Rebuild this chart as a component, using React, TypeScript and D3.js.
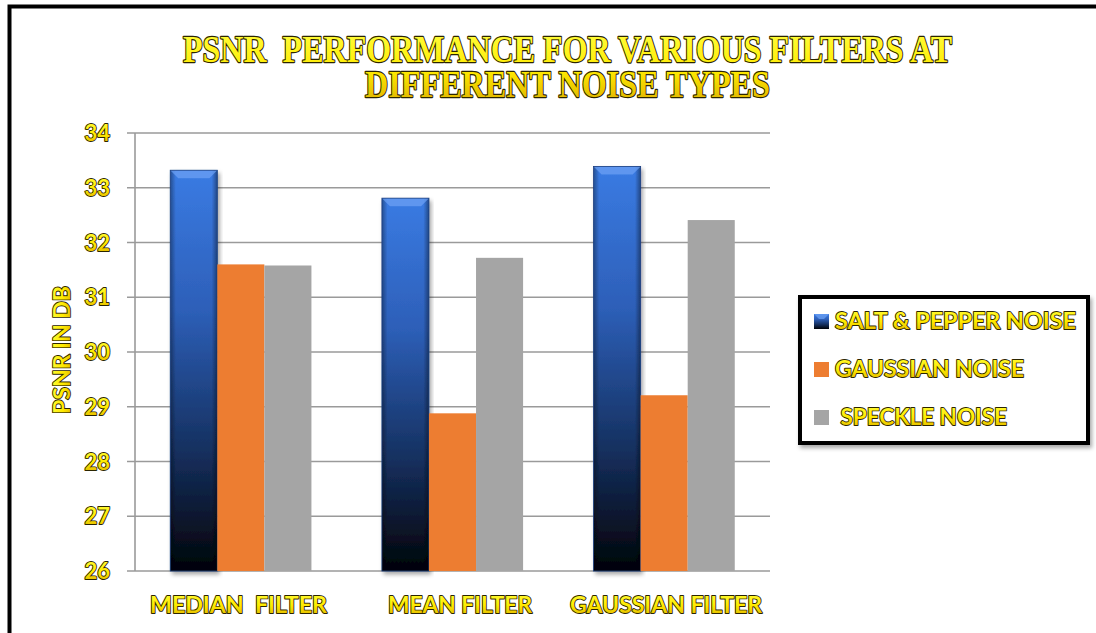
import React from "react";
import * as d3 from "d3";

const categories = ["MEDIAN  FILTER", "MEAN FILTER", "GAUSSIAN FILTER"];
const seriesNames = ["SALT & PEPPER NOISE", "GAUSSIAN NOISE", " SPECKLE NOISE"];
const saltPepper = [33.32, 32.81, 33.39];
const gaussianNoise = [31.6, 28.88, 29.21];
const speckle = [31.58, 31.72, 32.41];
const yTicks = [26, 27, 28, 29, 30, 31, 32, 33, 34];
const titleLines = ["PSNR  PERFORMANCE FOR VARIOUS FILTERS AT", "DIFFERENT NOISE TYPES"];
const yTitle = "PSNR IN DB";

const W = 1096, H = 633;
const plot = { left: 135, right: 770, top: 133, bottom: 571 };

const FancyText = ({ x, y, text, size, family, anchor = "middle", length, rotate = 0, sw = 1.1, weight = "bold", sy = 1 }: any) => {
  const common: any = {
    fontFamily: family, fontSize: size, fontWeight: weight, textAnchor: anchor,
    style: { whiteSpace: "pre", paintOrder: "stroke fill" },
  };
  if (length) { common.textLength = length; common.lengthAdjust = "spacingAndGlyphs"; }
  return (
    <g transform={`translate(${x},${y}) rotate(${rotate}) scale(1,${sy})`}>
      <text {...common} x={0} y={0} fill="url(#txtGrad)" stroke="#2b2500" strokeWidth={sw * 2} strokeLinejoin="round">{text}</text>
    </g>
  );
};

export default function App() {
  const x0 = d3.scaleBand().domain(categories).range([plot.left, plot.right]).paddingInner(0.333).paddingOuter(0.1665);
  const x1 = d3.scaleBand().domain(["a", "b", "c"]).range([0, x0.bandwidth()]);
  const y = d3.scaleLinear().domain([26, 34]).range([plot.bottom, plot.top]);
  const colors = ["url(#blueGrad)", "#ED7D31", "#A5A5A5"];
  const series = [saltPepper, gaussianNoise, speckle];
  const sans = "Lato, 'Open Sans', sans-serif";
  const serif = "'Liberation Serif', 'DejaVu Serif', serif";
  const catLen = [177, 144, 192];
  const catX = [238.5, 460, 666];
  const legLen = [241, 189, 172];
  const tsy = 1.25;

  return (
    <svg width={W} height={H} style={{ position: "absolute", left: 0, top: 0, background: "#fff", overflow: "hidden" }}>
      <defs>
        <linearGradient id="blueGrad" x1="0" y1="0" x2="0" y2="1">
          <stop offset="0" stopColor="#3a7be3" />
          <stop offset="0.35" stopColor="#2d5fb8" />
          <stop offset="0.7" stopColor="#15305f" />
          <stop offset="1" stopColor="#020308" />
        </linearGradient>
        <linearGradient id="bevelSide" x1="0" y1="0" x2="1" y2="0">
          <stop offset="0" stopColor="#000" stopOpacity="0.35" />
          <stop offset="0.12" stopColor="#000" stopOpacity="0" />
          <stop offset="0.88" stopColor="#000" stopOpacity="0" />
          <stop offset="1" stopColor="#000" stopOpacity="0.4" />
        </linearGradient>
        <linearGradient id="txtGrad" x1="0" y1="0" x2="0" y2="1">
          <stop offset="0" stopColor="#ffff40" />
          <stop offset="0.55" stopColor="#ffea00" />
          <stop offset="1" stopColor="#dcae00" />
        </linearGradient>
        <linearGradient id="titleGrad" x1="0" y1="0" x2="0" y2="1" gradientUnits="userSpaceOnUse" x2b="0">
          <stop offset="0" stopColor="#ffff40" />
          <stop offset="1" stopColor="#dcae00" />
        </linearGradient>
        <filter id="shadow" x="-10%" y="-10%" width="120%" height="130%">
          <feDropShadow dx="2" dy="3" stdDeviation="2" floodColor="#000" floodOpacity="0.35" />
        </filter>
      </defs>

      {/* outer frame */}
      <path d={`M9.5,${H + 10} V6.5 H${W + 10}`} fill="none" stroke="#000" strokeWidth={4} />

      {/* title: one text element with two lines */}
      <g transform={`translate(567.5,0) scale(1,${tsy})`}>
        <text fontFamily={serif} fontSize={31} fontWeight="bold" textAnchor="middle"
          fill="url(#txtGrad)" stroke="#2b2500" strokeWidth={1.8} strokeLinejoin="round"
          style={{ whiteSpace: "pre", paintOrder: "stroke fill" } as any}>
          <tspan x={0} y={62 / tsy} textLength={769} lengthAdjust="spacingAndGlyphs">{titleLines[0]}</tspan>
          <tspan x={0} y={97 / tsy} textLength={405} lengthAdjust="spacingAndGlyphs">{titleLines[1]}</tspan>
        </text>
      </g>

      {/* gridlines */}
      {yTicks.map((t) => (
        <g key={t}>
          <line x1={plot.left - 8} x2={plot.right} y1={y(t)} y2={y(t)} stroke="#9a9a9a" strokeWidth={1.6} />
          <FancyText x={110} y={y(t) + 8} text={String(t)} size={22} family={sans} anchor="end" sw={0.9} />
        </g>
      ))}
      <line x1={plot.left} x2={plot.left} y1={plot.top} y2={plot.bottom} stroke="#9a9a9a" strokeWidth={1.6} />

      {/* bars */}
      {categories.map((c, ci) => (
        <g key={c}>
          {series.map((s, si) => {
            const bx = (x0(c) as number) + (x1(["a", "b", "c"][si]) as number);
            const bw = x1.bandwidth();
            const by = y(s[ci]);
            const bh = plot.bottom - by;
            if (si === 0) {
              return (
                <g key={si} filter="url(#shadow)">
                  <rect x={bx} y={by} width={bw} height={bh} fill={colors[0]} />
                  <rect x={bx} y={by} width={bw} height={bh} fill="url(#bevelSide)" />
                  <path d={`M${bx},${by} L${bx + bw},${by} L${bx + bw - 8},${by + 8} L${bx + 8},${by + 8} Z`} fill="#6ea2f5" opacity={0.7} />
                  <rect x={bx} y={by} width={bw} height={bh} fill="none" stroke="#1b3f80" strokeWidth={0.8} />
                </g>
              );
            }
            return <rect key={si} x={bx} y={by} width={bw} height={bh} fill={colors[si]} />;
          })}
        </g>
      ))}

      {/* category labels */}
      {categories.map((c, i) => (
        <FancyText key={c} x={catX[i]} y={613} text={c} size={23} family={sans} length={catLen[i]} sw={0.9} />
      ))}

      {/* y title */}
      <FancyText x={70} y={350} text={yTitle} size={22} family={sans} rotate={-90} length={128} sw={0.9} />

      {/* legend */}
      <rect x={800} y={297} width={288} height={146} fill="#fff" stroke="#000" strokeWidth={4} filter="url(#shadow)" />
      {seriesNames.map((n, i) => {
        const ly = 321 + i * 48;
        return (
          <g key={n}>
            <rect x={814} y={ly - 7} width={15} height={15} fill={colors[i]} />
            {i === 0 && <path d={`M814,${ly - 7} L829,${ly - 7} L824,${ly - 2} L819,${ly - 2} Z`} fill="#6ea2f5" opacity={0.7} />}
            <FancyText x={835} y={ly + 8} text={n} size={23} family={sans} anchor="start" length={legLen[i]} sw={0.9} />
          </g>
        );
      })}
    </svg>
  );
}
